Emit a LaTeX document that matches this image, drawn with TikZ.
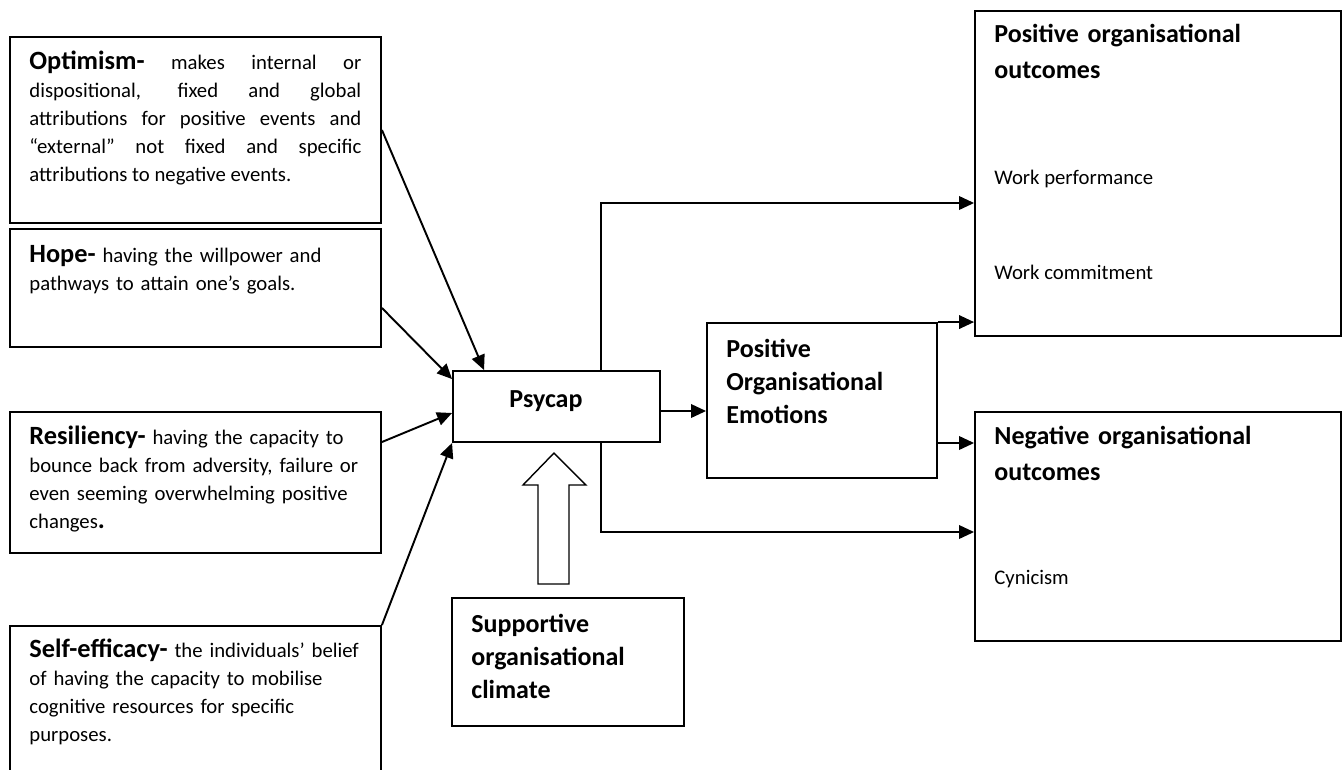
\documentclass[tikz,border=0pt]{standalone}
\usepackage{fontspec}
\setmainfont{Carlito}
\usepackage{tikz}
\usetikzlibrary{positioning}
\usetikzlibrary{arrows.meta}

\tikzset{
  panel/.style={draw, line width=1.1pt, rectangle, inner sep=0pt},
  desctext/.style={anchor=base west, inner sep=0pt, text width=6.64cm,
    font=\fontsize{11.8}{16}\selectfont},
  headtext/.style={anchor=base west, inner sep=0pt, text width=6.8cm, align=left,
    font=\fontsize{14.8}{21}\selectfont\bfseries},
  itemtext/.style={anchor=base west, inner sep=0pt, font=\fontsize{11.8}{14}\selectfont},
  flow/.style={-{Triangle[length=0.3cm,width=0.27cm]}, line width=1.1pt},
}
\newcommand{\keyword}[1]{{\fontsize{15}{16}\selectfont\bfseries #1}}

\begin{document}
\begin{tikzpicture}[x=0.02cm, y=-0.02cm]
    \useasboundingbox (0,0) rectangle (1343,769);
    \clip (0,0) rectangle (1343,769);

    % Four capacities
    \node[panel, minimum width=7.42cm, minimum height=3.72cm] (opt) at (195.5,130) {};
    \node[panel, minimum width=7.42cm, minimum height=2.36cm] (hope) at (195.5,288) {};
    \node[panel, minimum width=7.42cm, minimum height=2.82cm] (res) at (195.5,482.5) {};
    \node[panel, minimum width=7.42cm, minimum height=3.48cm] (self) at (195.5,713) {};

    \node[desctext, align=justify] (opttxt) at ([shift={(20,33)}]opt.north west)
        {\keyword{Optimism-} makes internal or\linebreak
         dispositional, fixed and global\linebreak
         attributions for positive events and\linebreak
         “external” not fixed and specific\linebreak
         attributions to negative events.};
    \node[desctext, align=left] (hopetxt) at ([shift={(20,34)}]hope.north west)
        {\keyword{Hope-} having the willpower and\\
         pathways to attain one’s goals.};
    \node[desctext, align=left] (restxt) at ([shift={(20,33)}]res.north west)
        {\keyword{Resiliency-} having the capacity to\\
         bounce back from adversity, failure or\\
         even seeming overwhelming positive\\
         changes\keyword{.}};
    \node[desctext, align=left] (selftxt) at ([shift={(20,32)}]self.north west)
        {\keyword{Self-efficacy-} the individuals’ belief\\
         of having the capacity to mobilise\\
         cognitive resources for specific\\
         purposes.};

    % Psycap and emotions
    \node[panel, minimum width=4.14cm, minimum height=1.42cm] (psy) at (556.5,406.5) {};
    \node[anchor=base, inner sep=0pt, font=\fontsize{14.8}{19}\selectfont\bfseries]
        (psytxt) at (546,407) {Psycap};
    \node[panel, minimum width=4.6cm, minimum height=3.1cm] (emo) at (822,400.5) {};
    \node[headtext, font=\fontsize{14.8}{19}\selectfont\bfseries] (emotxt)
        at ([shift={(20,35)}]emo.north west) {Positive\\ Organisational\\ Emotions};

    % Supportive climate
    \node[panel, minimum width=4.64cm, minimum height=2.56cm] (sup) at (568,662) {};
    \node[headtext, font=\fontsize{14.8}{19}\selectfont\bfseries] (suptxt)
        at ([shift={(20,35)}]sup.north west) {Supportive\\ organisational\\ climate};
    \draw[line width=0.8pt, fill=white] (538,584) -- (538,485) -- (523,485) -- (554,453)
        -- (586,485) -- (569,485) -- (569,584) -- cycle;

    % Outcomes
    \node[panel, minimum width=7.32cm, minimum height=6.5cm] (pos) at (1158,173.5) {};
    \node[headtext] (postxt) at ([shift={(20,32)}]pos.north west)
        {Positive organisational\\ outcomes};
    \node[itemtext] (perf) at ([shift={(20,174)}]pos.north west) {Work performance};
    \node[itemtext] (commit) at ([shift={(20,269)}]pos.north west) {Work commitment};

    \node[panel, minimum width=7.32cm, minimum height=4.58cm] (neg) at (1158,526.5) {};
    \node[headtext] (negtxt) at ([shift={(20,33)}]neg.north west)
        {Negative organisational\\ outcomes};
    \node[itemtext] (cyn) at ([shift={(20,173)}]neg.north west) {Cynicism};

    % Arrows
    \draw[flow] (opt.east) -- ([xshift=0.64cm]psy.north west);
    \draw[flow] ([yshift=0.8cm]hope.south east) -- ([yshift=-0.18cm]psy.north west);
    \draw[flow] ([yshift=0.81cm]res.east) -- ([yshift=-0.13cm]psy.west);
    \draw[flow] (self.north east) -- (psy.south west);

    \coordinate (psyout) at ([yshift=-0.09cm]psy.east);
    \draw[flow] (psyout) -- (psyout -| emo.west);
    \draw[flow] ([xshift=-1.2cm]psy.north east) |- ([yshift=-0.59cm]pos.west);
    \draw[flow] ([xshift=-1.2cm]psy.south east) |- ([yshift=-0.11cm]neg.west);

    \coordinate (emoout) at ([yshift=-0.85cm]emo.east);
    \draw[flow] (emo.north east) -- (emo.north east -| pos.west);
    \draw[flow] (emoout) -- (emoout -| neg.west);
\end{tikzpicture}
\end{document}
